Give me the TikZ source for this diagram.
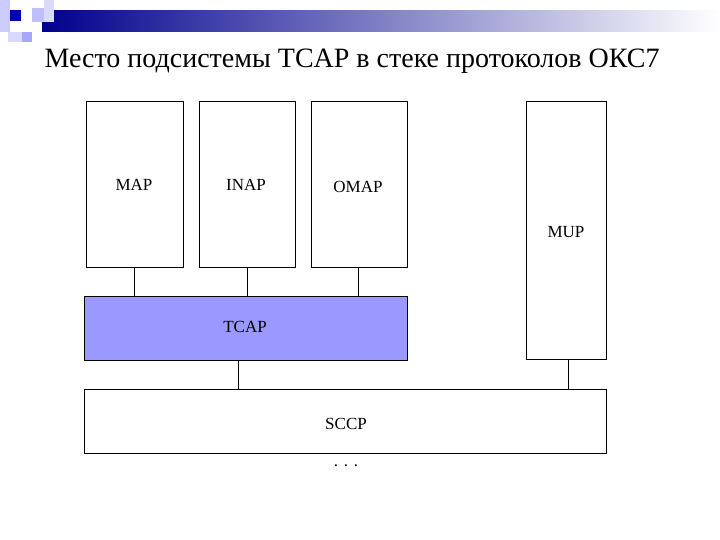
\documentclass[tikz,border=0pt]{standalone}
\usepackage{fontspec}
\setmainfont{Liberation Serif}
\begin{document}
\begin{tikzpicture}[x=1pt,y=-1pt,
  blk/.style={draw=black,line width=0.8pt,fill=white},
  lbl/.style={font=\fontsize{17}{20}\selectfont,inner sep=0pt},
  ln/.style={draw=black,line width=0.8pt}]
\useasboundingbox (0,0) rectangle (720,540);
% decoration
\shade[left color=blue!55!black, right color=white] (42,11) rectangle (720,32);
\fill[blue!20] (0,0) rectangle (10,32);
\fill[blue!25] (32,8) rectangle (52,22);
\fill[blue!15] (44,0) rectangle (54,22);
\fill[blue!35] (22,32) rectangle (32,42);
\fill[blue!15] (8,32) rectangle (22,42);
\fill[blue!70!black] (10,10) rectangle (21,21);
% title
\node[inner sep=0pt,font=\fontsize{28}{32}\selectfont] (title) at (352,61) {Место подсистемы TCAP в стеке протоколов ОКС7};
% boxes
\path[blk] (86,101) rectangle (183,267);
\path[blk] (199,101) rectangle (295,267);
\path[blk] (311,101) rectangle (407,267);
\path[blk] (526,101) rectangle (606,359);
\path[blk,fill={rgb,255:red,153;green,153;blue,255}] (84,296) rectangle (407,360);
\path[blk] (84,389) rectangle (606,453);
\node[lbl] (map) at (134,185) {MAP};
\node[lbl] (inap) at (246,185) {INAP};
\node[lbl] (omap) at (358,187) {OMAP};
\node[lbl] (mup) at (566,232) {MUP};
\node[lbl] (tcap) at (245,327) {TCAP};
\node[lbl] (sccp) at (346,424) {SCCP};
\node[lbl] (dots) at (346,466) {. . .};
% connectors
\coordinate (a1) at (134,267); \coordinate (a2) at (134,296);
\coordinate (b1) at (247,267); \coordinate (b2) at (247,296);
\coordinate (c1) at (358,267); \coordinate (c2) at (358,296);
\coordinate (d1) at (238,360); \coordinate (d2) at (238,389);
\coordinate (e1) at (568,359); \coordinate (e2) at (568,389);
\draw[ln] (a1)--(a2); \draw[ln] (b1)--(b2); \draw[ln] (c1)--(c2);
\draw[ln] (d1)--(d2); \draw[ln] (e1)--(e2);
\end{tikzpicture}
\end{document}
